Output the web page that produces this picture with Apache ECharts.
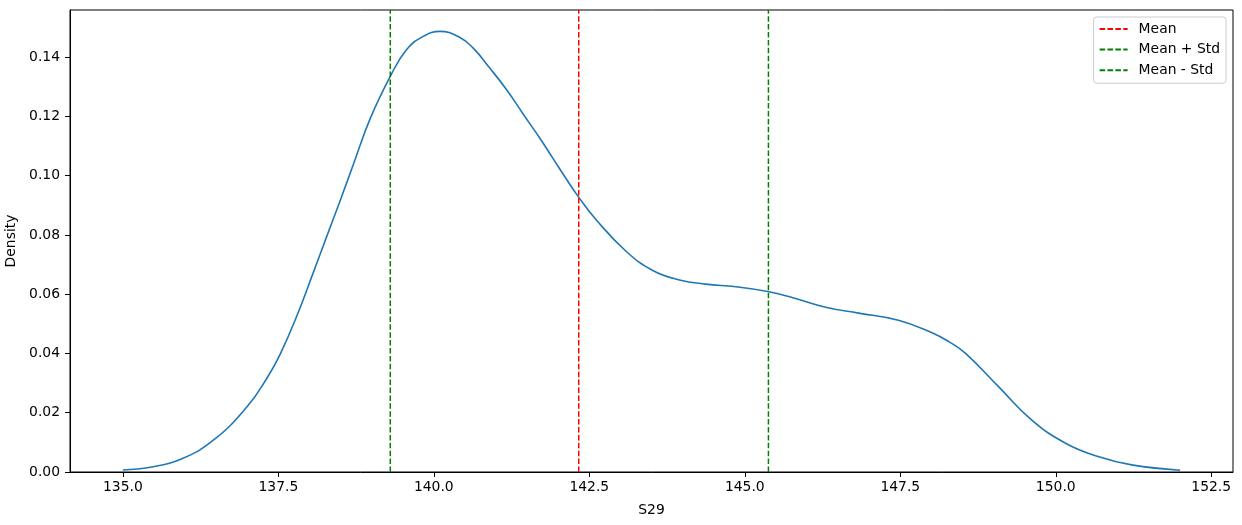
<!DOCTYPE html>
<html>
<head>
<meta charset="utf-8">
<script src="https://cdn.jsdelivr.net/npm/echarts@6/dist/echarts.min.js"></script>
<style>
  html, body {margin: 0; padding: 0; background: #fff;}
  #chart {width: 1242px; height: 525px;}
</style>
</head>
<body>
<div id="chart"></div>
<script>
// KDE curve of S29
var kdeX = [135.0, 135.44, 135.93, 136.46, 137.0, 137.32, 137.53, 137.80, 138.06, 138.28,
    138.48, 138.71, 138.98, 139.30, 139.56, 139.83, 140.10, 140.42, 140.63, 140.90,
    141.17, 141.43, 141.70, 141.91, 142.12, 142.32, 142.61, 143.09, 143.52, 143.95,
    144.37, 144.86, 145.37, 145.76, 146.30, 146.83, 147.47, 148.01, 148.28, 148.55,
    149.08, 149.61, 150.15, 150.68, 151.22, 152.0];
var kdeY = [0.0007, 0.0016, 0.0043, 0.0108, 0.0221, 0.0318, 0.0398, 0.0528, 0.0672, 0.0796,
    0.0908, 0.1040, 0.1194, 0.1335, 0.1425, 0.1470, 0.1487, 0.1466, 0.1431, 0.1363,
    0.1290, 0.1210, 0.1128, 0.1060, 0.0992, 0.0930, 0.0851, 0.0745, 0.0680, 0.0648,
    0.0634, 0.0625, 0.0609, 0.0589, 0.0556, 0.0536, 0.0512, 0.0470, 0.0440, 0.0400,
    0.0288, 0.0176, 0.0098, 0.0052, 0.0024, 0.0006];

var lineNames = ['Mean', 'Mean + Std', 'Mean - Std'];
var lineValues = [142.33, 145.38, 139.30];
var lineColors = ['#ff0000', '#008000', '#008000'];

var xTicks = [135.0, 137.5, 140.0, 142.5, 145.0, 147.5, 150.0, 152.5];
var yTicks = [0, 0.02, 0.04, 0.06, 0.08, 0.10, 0.12, 0.14];

var xMin = 134.15, xMax = 152.85;
var yMin = 0, yMax = 0.1559;

var font = 'DejaVu Sans';

var chart = echarts.init(document.getElementById('chart'));

var series = [{
    name: 'kde',
    type: 'line',
    data: kdeX.map(function (x, i) { return [x, kdeY[i]]; }),
    smooth: 0.45,
    symbol: 'none',
    lineStyle: {color: '#1f77b4', width: 1.6},
    z: 3
}];
lineNames.forEach(function (n, i) {
    series.push({
        name: n,
        type: 'line',
        data: [[lineValues[i], yMin], [lineValues[i], yMax]],
        symbol: 'none',
        color: lineColors[i],
        lineStyle: {color: lineColors[i], width: 1.5, type: [5.5, 2.4]},
        z: 4
    });
});

chart.setOption({
    animation: false,
    textStyle: {fontFamily: font},
    grid: {
        left: 70,
        right: 9,
        top: 10,
        bottom: 53,
        show: true,
        borderColor: '#000',
        borderWidth: 1,
        containLabel: false,
        outerBoundsMode: 'none'
    },
    legend: {
        data: lineNames,
        orient: 'vertical',
        right: 16,
        top: 17,
        itemWidth: 28,
        itemHeight: 14,
        itemGap: 6.6,
        padding: [5, 6, 6, 5],
        borderColor: '#cccccc',
        borderWidth: 1,
        borderRadius: 3,
        backgroundColor: 'rgba(255,255,255,0.8)',
        itemStyle: {opacity: 0},
        textStyle: {fontFamily: font, fontSize: 13.9, color: '#000', padding: [0, 0, 0, 6]}
    },
    xAxis: {
        type: 'value',
        min: xMin,
        max: xMax,
        name: 'S29',
        nameLocation: 'middle',
        nameGap: 31,
        nameTextStyle: {fontFamily: font, fontSize: 13.9, color: '#000'},
        splitLine: {show: false},
        axisLine: {show: true, onZero: false, lineStyle: {color: '#000', width: 1}},
        axisTick: {show: true, length: 5, lineStyle: {color: '#000'}, customValues: xTicks},
        axisLabel: {
            color: '#000',
            fontSize: 13.9,
            margin: 8,
            customValues: xTicks,
            formatter: function (v) { return v.toFixed(1); }
        }
    },
    yAxis: {
        type: 'value',
        min: yMin,
        max: yMax,
        name: 'Density',
        nameLocation: 'middle',
        nameGap: 39,
        nameTextStyle: {fontFamily: font, fontSize: 13.9, color: '#000'},
        splitLine: {show: false},
        axisLine: {show: true, lineStyle: {color: '#000', width: 1}},
        axisTick: {show: true, length: 5, lineStyle: {color: '#000'}, customValues: yTicks},
        axisLabel: {
            color: '#000',
            fontSize: 13.9,
            margin: 10,
            customValues: yTicks,
            formatter: function (v) { return v.toFixed(2); }
        }
    },
    series: series
});
</script>
</body>
</html>
